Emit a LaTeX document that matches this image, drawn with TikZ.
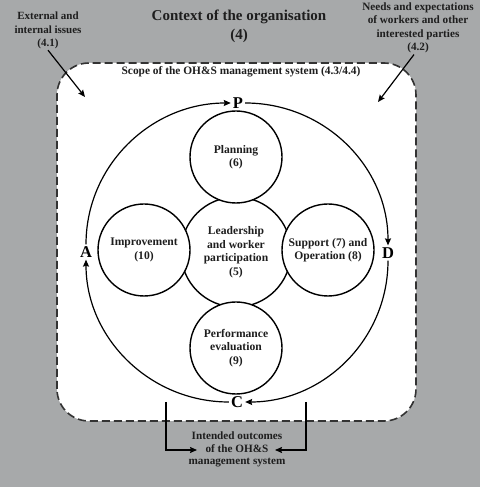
\documentclass[tikz,border=0pt]{standalone}
\usepackage{fontspec}
\setmainfont{Liberation Serif}
\usetikzlibrary{arrows.meta}
\definecolor{bggray}{RGB}{167,169,170}
\definecolor{txt}{RGB}{30,30,30}
\tikzset{
  lbl/.style={font=\bfseries\fontsize{11}{13.2}\selectfont, text=txt, align=center, inner sep=1pt},
  ring/.style={circle, draw=black, line width=1.4pt, fill=white, minimum size=92pt, inner sep=0pt, align=center, font=\bfseries\fontsize{11.6}{13.5}\selectfont, text=txt},
  pdca/.style={font=\bfseries\fontsize{16.5}{18}\selectfont, inner sep=2pt},
  arr/.style={line width=1.2pt, -{Stealth[length=7pt,width=6pt,inset=1pt]}},
}
\begin{document}
\begin{tikzpicture}[x=1pt,y=1pt]
\useasboundingbox (0,0) rectangle (480,487);
\fill[bggray] (0,0) rectangle (480,487);
% scope box
\draw[fill=white, draw=black!80, line width=1.6pt, dash pattern=on 8pt off 4pt, rounded corners=32pt] (57,66) rectangle (416,424);
% title and side texts
\node[lbl, font=\bfseries\fontsize{15}{19}\selectfont] (title) at (239,460.5) {Context of the organisation\\(4)};
\node[lbl, font=\bfseries\fontsize{11}{13.5}\selectfont] (ext) at (48,456.5) {External and\\internal issues\\(4.1)};
\node[lbl, font=\bfseries\fontsize{11.2}{13.5}\selectfont] (needs) at (418,459) {Needs and expectations\\of workers and other\\interested parties\\(4.2)};
\node[lbl, font=\bfseries\fontsize{11.4}{12.6}\selectfont] (scope) at (241,415) {Scope of the OH\&S management system (4.3/4.4)};
\node[lbl, font=\bfseries\fontsize{11.2}{12.8}\selectfont] (outc) at (237,37.5) {Intended outcomes\\of the OH\&S\\management system};
\coordinate (extend) at (85,390);
\coordinate (needsend) at (378,385);
\draw[arr] (ext.south) -- (extend);
\draw[arr] ([xshift=-4pt]needs.south) -- (needsend);
% circles
\node[ring, minimum size=110pt] (lead) at (236,235) {Leadership\\and worker\\participation\\(5)};
\node[ring] (plan) at (236,330) {Planning\\(6)};
\node[ring] (impr) at (144,237) {Improvement\\(10)};
\node[ring] (supp) at (328,237) {Support (7) and\\Operation (8)};
\node[ring] (perf) at (236,139) {Performance\\evaluation\\(9)};
% PDCA
\node[pdca] (P) at (238,384) {P};
\node[pdca] (D) at (388,234) {D};
\node[pdca] (C) at (237,85) {C};
\node[pdca] (A) at (86,235) {A};
\draw[arr] (A) to[out=90,in=180] (P);
\draw[arr] (P) to[out=0,in=90] (D);
\draw[arr] (D) to[out=-90,in=0] (C);
\draw[arr] (C) to[out=180,in=-90] (A);
% outcomes bracket
\coordinate (bl) at (166,85);
\coordinate (br) at (306,85);
\coordinate (ol) at (197,37);
\coordinate (or) at (275,37);
\draw[arr] (bl) |- (ol);
\draw[arr] (br) |- (or);
\end{tikzpicture}
\end{document}
